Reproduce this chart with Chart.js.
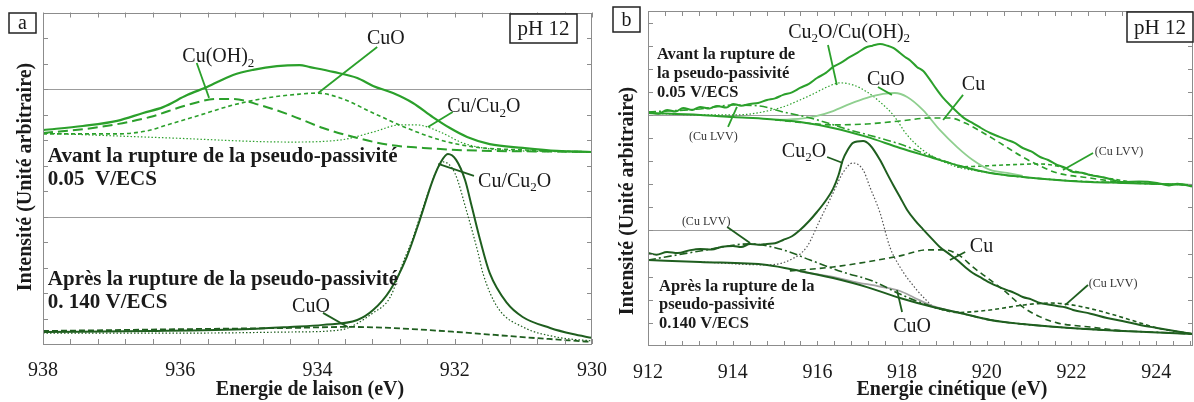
<!DOCTYPE html>
<html><head><meta charset="utf-8">
<script src="https://cdn.jsdelivr.net/npm/chart.js@4.4.1/dist/chart.umd.min.js"></script>
<style>
html,body{margin:0;padding:0;background:#fff;}
#wrap{position:relative;width:1194px;height:402px;overflow:hidden;background:#fff;}
.pane{position:absolute;top:0;height:402px;}
</style></head><body>
<div id="wrap">
<div class="pane" style="left:597px;width:597px"><canvas id="cb" width="597" height="402"></canvas></div>
<div class="pane" style="left:0;width:640px"><canvas id="ca" width="640" height="402"></canvas></div>
</div>
<script>
// ---------------- DATA: panel a (Cu 2p3/2, binding energy) ----------------
const aTickLabels = [930, 932, 934, 936, 938];
const aTopEnvelope = [[938.00,8.39],[937.42,8.55],[936.92,8.75],[936.54,9.06],[936.25,9.29],[935.90,9.76],[935.61,10.08],[935.23,10.55],[934.94,10.75],[934.59,10.90],[934.26,10.94],[934.11,10.86],[933.77,10.67],[933.42,10.43],[933.19,10.12],[932.90,9.84],[932.61,9.45],[932.32,8.90],[932.07,8.47],[931.82,8.12],[931.49,7.84],[931.01,7.69],[930.51,7.57],[930.00,7.53]];
const aTopCuOH2 = [[938.00,8.27],[937.17,8.51],[936.44,8.90],[935.90,9.37],[935.46,9.61],[935.23,9.61],[934.84,9.37],[934.40,8.98],[933.92,8.47],[933.42,8.08],[932.94,7.80],[932.46,7.69],[931.97,7.61],[930.00,7.53]];
const aTopCuO = [[938.00,8.24],[936.92,8.24],[936.50,8.35],[936.19,8.59],[935.71,8.98],[935.23,9.37],[934.74,9.65],[934.26,9.80],[934.01,9.84],[933.67,9.65],[933.19,9.06],[932.70,8.47],[932.21,8.00],[931.73,7.73],[931.01,7.61],[930.00,7.53]];
const aTopCuCu2O = [[938.00,8.27],[936.15,8.08],[934.40,7.92],[933.67,8.00],[933.19,8.31],[932.80,8.59],[932.55,8.59],[932.21,8.31],[931.88,7.88],[931.49,7.65],[931.01,7.57],[930.00,7.53]];
const aBotEnvelope = [[938.00,0.47],[936.44,0.51],[934.98,0.59],[934.40,0.67],[933.92,0.75],[933.42,0.94],[933.19,1.33],[932.94,2.12],[932.70,3.41],[932.51,4.86],[932.32,6.43],[932.21,7.10],[932.10,7.45],[931.98,7.22],[931.85,6.43],[931.75,5.37],[931.63,4.08],[931.49,2.78],[931.24,1.61],[931.01,1.06],[930.61,0.63],[930.28,0.39],[930.00,0.24]];
const aBotCuCu2O = [[938.00,0.43],[935.71,0.43],[934.40,0.47],[933.67,0.55],[933.19,1.22],[932.94,1.84],[932.75,3.22],[932.62,4.08],[932.46,5.37],[932.24,6.94],[932.17,7.14],[932.00,6.71],[931.82,5.14],[931.66,3.57],[931.59,2.78],[931.38,1.45],[931.01,0.67],[930.51,0.27],[930.00,0.12]];
const aBotCuO = [[938.00,0.51],[935.71,0.59],[934.40,0.63],[933.57,0.67],[932.94,0.63],[931.97,0.47],[931.01,0.27],[930.00,0.08]];

// ---------------- DATA: panel b (Cu LMM, kinetic energy) ----------------
const bTickLabels = [912, 914, 916, 918, 920, 922, 924];
const bTopEnvelope = [[912.00,10.13],[912.25,10.05],[912.45,10.22],[912.65,10.15],[912.83,10.30],[913.05,10.22],[913.23,10.35],[913.45,10.28],[913.63,10.39],[913.85,10.32],[914.01,10.48],[914.2,10.40],[914.41,10.48],[914.6,10.52],[914.81,10.65],[915.0,10.72],[915.19,10.87],[915.4,10.98],[915.59,11.17],[915.8,11.35],[915.99,11.60],[916.2,11.82],[916.37,12.08],[916.55,12.25],[916.77,12.51],[916.95,12.70],[917.17,12.94],[917.3,13.00],[917.48,13.07],[917.65,13.00],[917.79,12.90],[918.07,12.51],[918.2,12.35],[918.35,12.08],[918.5,11.90],[918.66,11.52],[918.8,11.15],[918.97,10.74],[919.15,10.40],[919.30,10.13],[919.5,9.82],[919.67,9.65],[919.85,9.45],[920.08,9.22],[920.3,9.05],[920.48,8.92],[920.65,8.80],[920.85,8.57],[921.05,8.42],[921.26,8.18],[921.45,8.05],[921.66,7.84],[921.85,7.72],[922.04,7.53],[922.25,7.50],[922.44,7.40],[922.8,7.28],[923.22,7.10],[923.6,7.12],[924.02,7.06],[924.3,6.95],[924.5,7.02],[924.87,6.90]];
const bTopBackground = [[912.00,10.09],[913.23,10.00],[914.01,9.91],[914.81,9.83],[915.59,9.70],[916.37,9.44],[917.17,9.05],[917.95,8.57],[918.73,8.14],[919.37,7.79],[920.08,7.49],[920.85,7.32],[921.66,7.19],[922.44,7.10],[923.22,7.06],[924.87,6.97]];
const bTopLVVlow = [[912.00,10.13],[913.23,10.26],[914.01,10.43],[914.64,10.39],[915.19,10.13],[915.83,9.87],[916.77,9.35],[917.95,8.74],[918.73,8.18],[919.37,7.79],[920.08,7.49],[921.66,7.19],[923.22,7.06],[924.87,6.97]];
const bTopCu = [[915.00,9.79],[915.59,9.68],[916.37,9.57],[917.17,9.61],[917.95,9.74],[918.66,9.87],[919.13,9.87],[919.49,9.65],[919.84,9.31],[920.31,8.79],[920.85,8.18],[921.26,7.79],[921.66,7.49],[922.44,7.27],[923.22,7.06]];
const bTopCuO = [[915.00,9.79],[915.28,9.80],[915.75,9.87],[915.99,9.96],[916.37,10.17],[916.77,10.48],[917.17,10.74],[917.55,10.91],[917.83,10.95],[918.12,10.78],[918.49,10.22],[918.89,9.35],[919.30,8.61],[919.67,8.05],[920.08,7.62],[920.48,7.49],[920.85,7.36]];
const bTopCu2OCuOH2 = [[912.00,10.09],[913.23,10.00],[914.01,10.00],[914.41,10.04],[914.81,10.17],[915.19,10.35],[915.59,10.65],[915.90,10.91],[916.23,11.21],[916.53,11.39],[916.84,11.30],[917.17,11.00],[917.48,10.56],[917.79,10.00],[918.12,9.13],[918.49,8.48],[918.89,8.05],[919.30,7.75],[920.08,7.49]];
const bTopLVVhigh = [[919.30,7.75],[919.67,7.77],[920.48,7.84],[921.26,7.88],[921.66,7.79],[922.04,7.58],[922.84,7.27],[923.62,7.06],[924.87,6.97]];
const bBotEnvelope = [[912.00,4.03],[912.2,3.95],[912.45,4.07],[912.7,4.02],[913.0,4.15],[913.23,4.20],[913.5,4.18],[913.75,4.30],[914.01,4.33],[914.2,4.28],[914.41,4.42],[914.6,4.38],[914.81,4.42],[915.0,4.45],[915.19,4.59],[915.4,4.75],[915.59,5.02],[915.8,5.40],[915.99,5.80],[916.2,6.30],[916.37,6.80],[916.5,7.40],[916.60,8.05],[916.72,8.50],[916.84,8.79],[917.08,8.87],[917.24,8.70],[917.48,8.05],[917.65,7.45],[917.79,6.97],[917.95,6.45],[918.12,5.89],[918.3,5.45],[918.49,5.06],[918.7,4.65],[918.89,4.29],[919.1,4.00],[919.30,3.72],[919.5,3.40],[919.67,3.16],[919.9,2.92],[920.08,2.73],[920.3,2.55],[920.48,2.42],[920.65,2.30],[920.85,2.12],[921.05,2.02],[921.26,1.86],[921.45,1.80],[921.66,1.73],[921.85,1.68],[922.04,1.56],[922.45,1.40],[922.84,1.21],[923.2,1.08],[923.62,0.91],[924.02,0.78],[924.4,0.66],[924.87,0.52]];
const bBotBackground = [[912.00,3.72],[913.23,3.64],[914.81,3.51],[915.59,3.25],[916.37,2.94],[917.17,2.55],[917.95,2.08],[918.73,1.69],[919.37,1.43],[920.08,1.13],[920.85,0.95],[921.66,0.82],[923.22,0.65],[924.87,0.52]];
const bBotCuO = [[915.59,3.22],[916.37,2.99],[916.84,2.79],[917.48,2.57],[917.95,2.38],[918.30,2.08],[918.73,1.73],[919.37,1.43]];
const bBotCu2O = [[913.23,3.64],[914.81,3.51],[915.35,3.72],[915.75,4.29],[916.06,5.45],[916.37,6.62],[916.60,7.49],[916.84,7.92],[917.08,7.62],[917.24,6.88],[917.48,5.76],[917.71,4.29],[917.95,3.42],[918.35,2.42],[918.73,1.69]];
const bBotLVVlow = [[912.00,3.72],[913.23,4.11],[914.41,4.42],[915.19,4.16],[915.83,3.72],[916.60,3.20],[917.31,2.81],[917.95,2.25],[918.73,1.69],[919.37,1.43],[920.08,1.13],[921.66,0.82],[924.87,0.52]];
const bBotCu = [[915.35,3.25],[916.37,3.42],[917.17,3.64],[917.95,3.90],[918.59,4.16],[919.01,4.16],[919.37,3.90],[919.67,3.42],[920.08,2.86],[920.48,2.29],[920.85,1.69],[921.26,1.26],[921.66,1.00],[922.44,0.82],[923.22,0.65]];
const bBotLVVhigh = [[918.73,1.69],[919.30,1.45],[920.08,1.56],[920.85,1.77],[921.49,1.86],[922.04,1.77],[922.84,1.43],[923.62,1.00],[924.02,0.78],[924.87,0.52]];

// ---------------- styling ----------------
const FONT = "'Liberation Serif','Times New Roman',Times,serif";
const GREEN = '#2ba02b', DARK = '#1f5e1f', LIGHT = '#8fcf8f', INK = '#1a1a1a';

function ds(points, color, width, dash) {
  return { data: points.map(p => ({x: p[0], y: p[1]})), borderColor: color, borderWidth: width,
    borderDash: dash || [], pointRadius: 0, fill: false, cubicInterpolationMode: 'monotone' };
}

function drawRich(ctx, text, x, y, size, bold, color) {
  const parts = text.split(/(_\d)/).filter(s => s);
  let cx = x;
  ctx.fillStyle = color; ctx.textAlign = 'left'; ctx.textBaseline = 'middle';
  for (const p of parts) {
    if (p[0] === '_') {
      const s = Math.round(size * 0.66);
      ctx.font = (bold ? 'bold ' : '') + s + 'px ' + FONT;
      ctx.fillText(p.slice(1), cx, y + size * 0.3);
      cx += ctx.measureText(p.slice(1)).width;
    } else {
      ctx.font = (bold ? 'bold ' : '') + size + 'px ' + FONT;
      ctx.fillText(p, cx, y);
      cx += ctx.measureText(p).width;
    }
  }
}

function makeDecor(cfg) {
  return {
    id: 'decor_' + cfg.name,
    beforeDatasetsDraw(chart) {
      const {ctx, chartArea: ca, scales: {y}} = chart;
      ctx.save();
      ctx.strokeStyle = '#9c9c9c'; ctx.lineWidth = 1.2;
      cfg.refLines.forEach(v => {
        const py = Math.round(y.getPixelForValue(v)) + 0.5;
        ctx.beginPath(); ctx.moveTo(ca.left, py); ctx.lineTo(ca.right, py); ctx.stroke();
      });
      ctx.restore();
    },
    afterDatasetsDraw(chart) {
      const {ctx, chartArea: ca, scales: {x, y}} = chart;
      ctx.save();
      ctx.strokeStyle = '#8c8c8c'; ctx.lineWidth = 1;
      ctx.strokeRect(Math.round(ca.left) + 0.5, Math.round(ca.top) + 0.5, Math.round(ca.right - ca.left) - 1, Math.round(ca.bottom - ca.top) - 1);
      ctx.beginPath();
      for (let i = 0; ; i++) {
        const v = cfg.xMin + i * 0.4;
        if (v > cfg.xMax + 1e-9) break;
        const px = Math.round(x.getPixelForValue(v)) + 0.5;
        ctx.moveTo(px, ca.bottom); ctx.lineTo(px, ca.bottom - 5);
        ctx.moveTo(px, ca.top); ctx.lineTo(px, ca.top + 5);
      }
      for (let v = 1; v < cfg.yMax; v++) {
        const py = Math.round(y.getPixelForValue(v)) + 0.5;
        ctx.moveTo(ca.left, py); ctx.lineTo(ca.left + 5, py);
        ctx.moveTo(ca.right, py); ctx.lineTo(ca.right - 5, py);
      }
      ctx.stroke();
      cfg.leaders.forEach(l => {
        ctx.strokeStyle = l.c; ctx.lineWidth = 1.8; ctx.setLineDash([]);
        ctx.beginPath();
        ctx.moveTo(x.getPixelForValue(l.x1), y.getPixelForValue(l.y1));
        ctx.lineTo(x.getPixelForValue(l.x2), y.getPixelForValue(l.y2));
        ctx.stroke();
      });
      cfg.labels.forEach(l => drawRich(ctx, l.t, x.getPixelForValue(l.x), y.getPixelForValue(l.y), l.s, l.b, l.c || INK));
      cfg.boxes.forEach(b => {
        ctx.fillStyle = '#fff'; ctx.fillRect(b.x, b.y, b.w, b.h);
        ctx.strokeStyle = '#222'; ctx.lineWidth = 1.5; ctx.strokeRect(b.x, b.y, b.w, b.h);
        ctx.fillStyle = INK; ctx.font = b.s + 'px ' + FONT; ctx.textAlign = 'center'; ctx.textBaseline = 'middle';
        ctx.fillText(b.t, b.x + b.w / 2, b.y + b.h / 2 + 1);
      });
      ctx.fillStyle = INK; ctx.font = 'bold 20px ' + FONT; ctx.textAlign = 'center'; ctx.textBaseline = 'middle';
      ctx.fillText(cfg.xTitle, cfg.xTitlePos[0], cfg.xTitlePos[1]);
      ctx.translate(cfg.yTitlePos[0], cfg.yTitlePos[1]); ctx.rotate(-Math.PI / 2);
      ctx.fillText('Intensité (Unité arbitraire)', 0, 0);
      ctx.restore();
    }
  };
}

function makeChart(id, cfg) {
  return new Chart(document.getElementById(id), {
    type: 'line',
    data: { datasets: cfg.datasets },
    options: {
      responsive: false, devicePixelRatio: 1, animation: false, events: [],
      layout: { padding: cfg.padding },
      plugins: { legend: { display: false }, tooltip: { enabled: false } },
      scales: {
        x: { type: 'linear', min: cfg.xMin, max: cfg.xMax, reverse: cfg.reverse,
          grid: { display: false }, border: { display: false },
          ticks: { font: { family: FONT, size: 20 }, color: INK, padding: 7, maxRotation: 0, autoSkip: false, includeBounds: false },
          afterBuildTicks: s => { s.ticks = cfg.tickLabels.map(v => ({ value: v })); },
          afterFit: s => { s.height = cfg.xAxisHeight; } },
        y: { type: 'linear', display: false, min: 0, max: cfg.yMax }
      }
    },
    plugins: [makeDecor(cfg)]
  });
}

makeChart('ca', {
  name: 'a', xMin: 930, xMax: 938, reverse: true, yMax: 13, tickLabels: aTickLabels,
  padding: { left: 43, right: 48, top: 12.5, bottom: 0 }, xAxisHeight: 58, refLines: [5, 10],
  xTitle: 'Energie de laison (eV)', xTitlePos: [310, 390], yTitlePos: [26, 177],
  datasets: [
    ds(aTopCuOH2, GREEN, 2, [10, 5]),
    ds(aTopCuO, GREEN, 1.6, [4, 3]),
    ds(aTopCuCu2O, GREEN, 1.2, [1.5, 2]),
    ds(aTopEnvelope, GREEN, 2.2),
    ds(aBotCuO, DARK, 1.8, [6, 3]),
    ds(aBotCuCu2O, DARK, 1.2, [1.5, 2]),
    ds(aBotEnvelope, DARK, 2)
  ],
  labels: [
    { t: 'Cu(OH)_2', x: 935.97, y: 11.25, s: 20 },
    { t: 'CuO', x: 933.28, y: 11.98, s: 20 },
    { t: 'Cu/Cu_2O', x: 932.11, y: 9.29, s: 20 },
    { t: 'Cu/Cu_2O', x: 931.66, y: 6.35, s: 20 },
    { t: 'CuO', x: 934.37, y: 1.45, s: 20 },
    { t: 'Avant la rupture de la pseudo-passivité', x: 937.93, y: 7.35, s: 21, b: true },
    { t: '0.05  V/ECS', x: 937.93, y: 6.43, s: 21, b: true },
    { t: 'Après la rupture de la pseudo-passivité', x: 937.93, y: 2.51, s: 21, b: true },
    { t: '0. 140 V/ECS', x: 937.93, y: 1.61, s: 21, b: true }
  ],
  leaders: [
    { x1: 935.76, y1: 11.02, x2: 935.58, y2: 9.65, c: GREEN },
    { x1: 933.13, y1: 11.65, x2: 933.99, y2: 9.84, c: GREEN },
    { x1: 932.03, y1: 9.10, x2: 932.39, y2: 8.51, c: GREEN },
    { x1: 931.72, y1: 6.59, x2: 932.24, y2: 7.06, c: DARK },
    { x1: 933.92, y1: 1.22, x2: 933.56, y2: 0.67, c: DARK }
  ],
  boxes: [
    { t: 'a', x: 9, y: 13, w: 27, h: 20, s: 20 },
    { t: 'pH 12', x: 510, y: 14, w: 67, h: 29, s: 21 }
  ]
});

makeChart('cb', {
  name: 'b', xMin: 912, xMax: 924.87, reverse: false, yMax: 14.5, tickLabels: bTickLabels,
  padding: { left: 51, right: 1, top: 11, bottom: 0 }, xAxisHeight: 56, refLines: [5, 10],
  xTitle: 'Energie cinétique (eV)', xTitlePos: [355, 390], yTitlePos: [31, 201],
  datasets: [
    ds(bTopBackground, GREEN, 2),
    ds(bTopLVVlow, GREEN, 1.6, [8, 3, 2, 3]),
    ds(bTopCu, GREEN, 1.6, [6, 4]),
    ds(bTopCuO, LIGHT, 1.8),
    ds(bTopCu2OCuOH2, GREEN, 1.2, [1.5, 2]),
    ds(bTopLVVhigh, GREEN, 1.6, [4, 3]),
    ds(bTopEnvelope, GREEN, 2),
    ds(bBotBackground, DARK, 2),
    ds(bBotLVVlow, DARK, 1.6, [8, 3, 2, 3]),
    ds(bBotCu, DARK, 1.6, [6, 4]),
    ds(bBotCuO, '#a3a3a3', 1.8),
    ds(bBotCu2O, '#555', 1.2, [1.5, 2]),
    ds(bBotLVVhigh, DARK, 1.6, [4, 3]),
    ds(bBotEnvelope, DARK, 2)
  ],
  labels: [
    { t: 'Avant la rupture de', x: 912.21, y: 12.60, s: 16.5, b: true },
    { t: 'la pseudo-passivité', x: 912.21, y: 11.77, s: 16.5, b: true },
    { t: '0.05 V/ECS', x: 912.21, y: 10.95, s: 16.5, b: true },
    { t: 'Cu_2O/Cu(OH)_2', x: 915.31, y: 13.55, s: 20 },
    { t: 'CuO', x: 917.17, y: 11.52, s: 20 },
    { t: 'Cu', x: 919.41, y: 11.30, s: 20 },
    { t: '(Cu LVV)', x: 912.97, y: 9.05, s: 12, c: '#333' },
    { t: '(Cu LVV)', x: 922.55, y: 8.40, s: 12, c: '#333' },
    { t: 'Cu_2O', x: 915.16, y: 8.40, s: 20 },
    { t: '(Cu LVV)', x: 912.80, y: 5.37, s: 12, c: '#333' },
    { t: 'Cu', x: 919.60, y: 4.29, s: 20 },
    { t: '(Cu LVV)', x: 922.41, y: 2.68, s: 12, c: '#333' },
    { t: 'CuO', x: 917.79, y: 0.82, s: 20 },
    { t: 'Après la rupture de la', x: 912.26, y: 2.55, s: 16.5, b: true },
    { t: 'pseudo-passivité', x: 912.26, y: 1.77, s: 16.5, b: true },
    { t: '0.140 V/ECS', x: 912.26, y: 0.97, s: 16.5, b: true }
  ],
  leaders: [
    { x1: 916.25, y1: 13.03, x2: 916.46, y2: 11.30, c: GREEN },
    { x1: 917.43, y1: 11.21, x2: 917.76, y2: 10.87, c: GREEN },
    { x1: 919.44, y1: 10.87, x2: 918.97, y2: 9.78, c: GREEN },
    { x1: 913.89, y1: 9.48, x2: 914.10, y2: 10.35, c: GREEN },
    { x1: 922.51, y1: 8.35, x2: 921.80, y2: 7.62, c: GREEN },
    { x1: 916.23, y1: 8.18, x2: 916.60, y2: 7.92, c: DARK },
    { x1: 913.87, y1: 5.15, x2: 914.41, y2: 4.46, c: DARK },
    { x1: 919.49, y1: 4.07, x2: 919.13, y2: 3.72, c: DARK },
    { x1: 922.39, y1: 2.64, x2: 921.85, y2: 1.77, c: DARK },
    { x1: 918.00, y1: 1.47, x2: 917.88, y2: 2.42, c: DARK }
  ],
  boxes: [
    { t: 'b', x: 16, y: 7, w: 27, h: 25, s: 20 },
    { t: 'pH 12', x: 530, y: 12, w: 66, h: 30, s: 21 }
  ]
});
</script>
</body></html>
